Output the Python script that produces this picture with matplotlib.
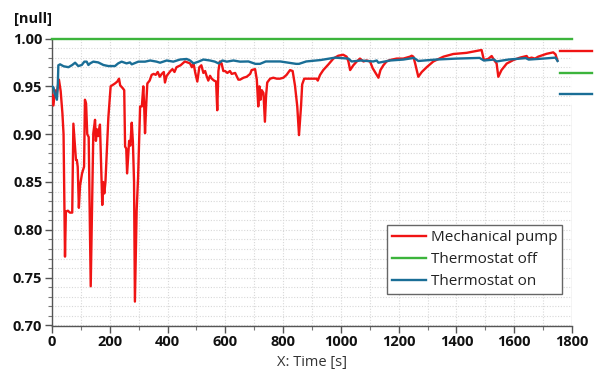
import matplotlib
matplotlib.use("Agg")
import matplotlib.pyplot as plt
from matplotlib.lines import Line2D
from matplotlib.ticker import MultipleLocator, FormatStrFormatter

# ---------------- data ----------------
pump_t = [0, 5, 10, 16, 24, 30, 36, 40, 45, 48, 55, 62, 70, 74, 80, 83, 86, 89, 93, 97,
          104, 111, 114, 118, 122, 127, 134, 143, 149, 152, 156, 160, 166, 174, 177, 181,
          185, 189, 195, 203, 218, 226, 232, 236, 245, 250, 253, 257, 260, 267, 271, 276,
          280, 284, 287, 293, 298, 305, 311, 316, 319, 322, 326, 330, 338, 345, 352, 359,
          366, 373, 380, 387, 391, 397, 410, 417, 424, 431, 445, 460, 478, 484, 490, 496,
          503, 510, 517, 524, 530, 535, 541, 547, 553, 561, 568, 572, 576, 581, 587, 593,
          599, 607, 616, 622, 634, 645, 651, 663, 674, 686, 691, 703, 709, 714, 718, 722,
          726, 732, 737, 741, 745, 755, 766, 778, 789, 801, 812, 824, 833, 841, 849, 855,
          862, 866, 873, 893, 916, 920, 928, 939, 957, 974, 991, 1008, 1020, 1026, 1032,
          1043, 1055, 1066, 1078, 1089, 1101, 1110, 1118, 1130, 1137, 1147, 1158, 1170,
          1193, 1216, 1239, 1245, 1251, 1257, 1268, 1280, 1297, 1320, 1355, 1389, 1435,
          1487, 1495, 1510, 1522, 1530, 1539, 1545, 1556, 1574, 1597, 1620, 1643, 1649,
          1660, 1672, 1683, 1712, 1735, 1743, 1749]
pump_v = [0.941, 0.930, 0.946, 0.942, 0.957, 0.945, 0.922, 0.900, 0.772, 0.819, 0.820,
          0.818, 0.818, 0.911, 0.885, 0.873, 0.873, 0.866, 0.823, 0.846, 0.859, 0.866,
          0.936, 0.932, 0.900, 0.897, 0.741, 0.901, 0.915, 0.893, 0.905, 0.898, 0.910,
          0.826, 0.850, 0.838, 0.850, 0.876, 0.917, 0.950, 0.953, 0.955, 0.958, 0.951,
          0.948, 0.946, 0.887, 0.885, 0.859, 0.893, 0.888, 0.912, 0.892, 0.850, 0.725,
          0.820, 0.855, 0.929, 0.929, 0.950, 0.930, 0.901, 0.930, 0.953, 0.956, 0.962,
          0.963, 0.962, 0.965, 0.960, 0.963, 0.965, 0.954, 0.961, 0.966, 0.968, 0.965,
          0.970, 0.972, 0.976, 0.974, 0.970, 0.974, 0.964, 0.955, 0.970, 0.972, 0.964,
          0.966, 0.961, 0.956, 0.961, 0.958, 0.956, 0.955, 0.925, 0.966, 0.976, 0.974,
          0.966, 0.966, 0.964, 0.966, 0.963, 0.964, 0.957, 0.957, 0.959, 0.960, 0.963,
          0.967, 0.968, 0.957, 0.929, 0.950, 0.936, 0.946, 0.943, 0.913, 0.940, 0.954,
          0.958, 0.959, 0.958, 0.958, 0.959, 0.962, 0.967, 0.966, 0.951, 0.929, 0.899,
          0.929, 0.952, 0.958, 0.958, 0.958, 0.956, 0.962, 0.967, 0.973, 0.979, 0.982,
          0.983, 0.981, 0.976, 0.967, 0.972, 0.976, 0.979, 0.976, 0.977, 0.976, 0.969,
          0.965, 0.959, 0.967, 0.972, 0.976, 0.9775, 0.979, 0.979, 0.981, 0.982, 0.981,
          0.974, 0.960, 0.965, 0.970, 0.976, 0.981, 0.9838, 0.985, 0.988, 0.9775, 0.9787,
          0.9817, 0.9775, 0.974, 0.960, 0.967, 0.9738, 0.9775, 0.980, 0.9817, 0.979,
          0.980, 0.979, 0.981, 0.984, 0.9855, 0.9834, 0.9775]

off_t = [0, 1800]
off_v = [1.0, 1.0]

on_t = [0, 5, 10, 17, 20, 22, 28, 40, 57, 70, 80, 91, 103, 112, 120, 126, 132, 143, 160,
        178, 195, 218, 229, 241, 258, 270, 276, 299, 322, 340, 362, 374, 397, 420, 443,
        466, 478, 490, 507, 524, 547, 564, 576, 590, 605, 628, 651, 680, 704, 720, 740,
        790, 845, 855, 880, 930, 980, 1026, 1037, 1070, 1112, 1124, 1130, 1170, 1216,
        1253, 1268, 1330, 1400, 1480, 1495, 1530, 1539, 1580, 1640, 1650, 1700, 1743, 1750]
on_v = [0.950, 0.949, 0.942, 0.936, 0.950, 0.972, 0.973, 0.971, 0.970, 0.9723, 0.9747,
        0.9712, 0.9723, 0.9758, 0.9758, 0.9723, 0.974, 0.9758, 0.975, 0.9723, 0.9712,
        0.9712, 0.974, 0.9758, 0.974, 0.975, 0.973, 0.9758, 0.9758, 0.977, 0.9758,
        0.9747, 0.977, 0.9758, 0.978, 0.9786, 0.977, 0.974, 0.9758, 0.978, 0.977,
        0.9758, 0.974, 0.977, 0.9758, 0.977, 0.9758, 0.976, 0.9735, 0.9735, 0.976,
        0.976, 0.9735, 0.9735, 0.976, 0.9775, 0.980, 0.979, 0.976, 0.977, 0.976, 0.977,
        0.9747, 0.977, 0.978, 0.9797, 0.9765, 0.978, 0.979, 0.9797, 0.977, 0.978,
        0.976, 0.978, 0.9795, 0.978, 0.979, 0.980, 0.9765]

series_labels = ["Mechanical pump", "Thermostat off", "Thermostat on"]
x_label = "X: Time [s]"
y_label = "[null]"

# ---------------- style ----------------
RED = "#f01414"
GREEN = "#3cb43c"
BLUE = "#1a6e96"
FONT = ["Open Sans", "DejaVu Sans"]
plt.rcParams["font.family"] = FONT

W, H = 601, 370
fig = plt.figure(figsize=(W / 100, H / 100), dpi=100)
ax = fig.add_axes([52 / W, 1 - 325.5 / H, 520 / W, 287 / H])

lw = 1.7
ax.plot(pump_t, pump_v, color=RED, lw=lw, label=series_labels[0], zorder=3)
ax.plot(off_t, off_v, color=GREEN, lw=lw, label=series_labels[1], zorder=4, clip_on=False)
ax.plot(on_t, on_v, color=BLUE, lw=lw, label=series_labels[2], zorder=5)

ax.set_xlim(0, 1800)
ax.set_ylim(0.70, 1.00)
ax.xaxis.set_major_locator(MultipleLocator(200))
ax.xaxis.set_minor_locator(MultipleLocator(100))
ax.yaxis.set_major_locator(MultipleLocator(0.05))
ax.yaxis.set_minor_locator(MultipleLocator(0.01))
ax.yaxis.set_major_formatter(FormatStrFormatter("%.2f"))

ax.grid(which="both", color="#d8d8d8", linestyle=(0, (1, 1.5)), linewidth=0.8)
ax.set_axisbelow(True)
ax.axvline(1800, ymin=0, ymax=0.77, color="#d0d0d0", lw=1, zorder=1)

for s in ("top", "right"):
    ax.spines[s].set_visible(False)
for s in ("left", "bottom"):
    ax.spines[s].set_color("#555555")
    ax.spines[s].set_linewidth(1.0)

ax.tick_params(which="major", length=5, width=1, color="#555555", labelsize=10.5,
               pad=2)
ax.tick_params(which="minor", length=3, width=0.8, color="#777777")
for lab in ax.get_xticklabels() + ax.get_yticklabels():
    lab.set_fontweight("bold")
    lab.set_color("#111111")

ax.set_xlabel(x_label, fontsize=10.5, color="#333333", labelpad=4)
fig.text(14 / W, 1 - 19 / H, y_label, fontsize=10.5, fontweight="bold",
         color="#111111", va="center", ha="left")

leg = ax.legend(loc="upper left", bbox_to_anchor=(387 / W, 1 - 225 / H),
                bbox_transform=fig.transFigure, fontsize=11, frameon=True,
                fancybox=False, edgecolor="#666666", framealpha=1,
                handlelength=2.2, handletextpad=0.3, labelspacing=0.45,
                borderpad=0.35, borderaxespad=0)
leg.get_frame().set_linewidth(1.0)
for t in leg.get_texts():
    t.set_color("#222222")

# short colour keys at right edge
for col, py in zip([RED, GREEN, BLUE], [51, 72.7, 94.3]):
    fig.add_artist(Line2D([560 / W, 592 / W], [1 - py / H, 1 - py / H],
                          transform=fig.transFigure, color=col, lw=lw))

fig.savefig("out.png", dpi=100)
